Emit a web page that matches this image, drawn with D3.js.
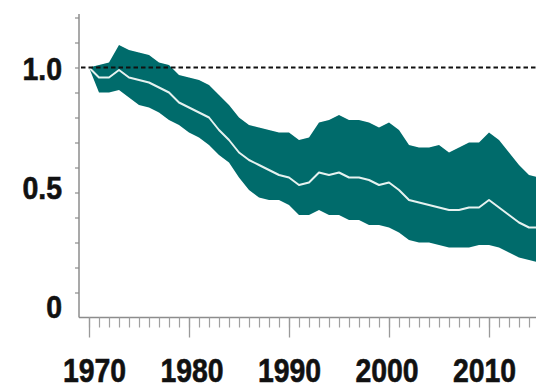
<!DOCTYPE html>
<html>
<head>
<meta charset="utf-8">
<script src="https://cdn.jsdelivr.net/npm/d3@7"></script>
<style>
  html, body { margin: 0; padding: 0; background: #fff; }
  svg { display: block; }
</style>
</head>
<body>
<svg id="chart" width="536" height="391"></svg>
<script>
// Index values, baseline 1970 = 1.0
const years = d3.range(1970, 2016);
const indexMid = [
  1.00, 0.96, 0.96, 0.99, 0.96, 0.95, 0.94, 0.92, 0.90, 0.86,
  0.84, 0.82, 0.80, 0.75, 0.71, 0.66, 0.63, 0.61, 0.59, 0.57,
  0.56, 0.53, 0.54, 0.58, 0.57, 0.58, 0.56, 0.56, 0.55, 0.53,
  0.54, 0.51, 0.47, 0.46, 0.45, 0.44, 0.43, 0.43, 0.44, 0.44,
  0.47, 0.44, 0.41, 0.38, 0.36, 0.36
];
const indexUpper = [
  1.00, 1.01, 1.02, 1.09, 1.07, 1.06, 1.05, 1.02, 1.01, 0.97,
  0.96, 0.95, 0.93, 0.89, 0.85, 0.80, 0.77, 0.76, 0.75, 0.74,
  0.74, 0.71, 0.72, 0.78, 0.79, 0.81, 0.79, 0.79, 0.78, 0.76,
  0.78, 0.75, 0.69, 0.68, 0.68, 0.69, 0.66, 0.68, 0.70, 0.70,
  0.74, 0.71, 0.66, 0.61, 0.57, 0.56
];
const indexLower = [
  1.00, 0.90, 0.90, 0.91, 0.88, 0.85, 0.84, 0.82, 0.79, 0.77,
  0.74, 0.72, 0.69, 0.65, 0.62, 0.56, 0.51, 0.48, 0.47, 0.47,
  0.45, 0.41, 0.41, 0.43, 0.41, 0.41, 0.39, 0.39, 0.37, 0.37,
  0.36, 0.34, 0.31, 0.30, 0.30, 0.29, 0.28, 0.28, 0.28, 0.29,
  0.29, 0.28, 0.26, 0.24, 0.23, 0.22
];

// Axis ticks and labels
const yTickValues = [0.1, 0.2, 0.3, 0.4, 0.5, 0.6, 0.7, 0.8, 0.9, 1.0, 1.1, 1.2];
const yLabelValues = [0, 0.5, 1.0];
const yLabelText = ["0", "0.5", "1.0"];
const xMinorYears = d3.range(1970, 2016);
const xMajorYears = [1970, 1980, 1990, 2000, 2010];
const xLabelText = ["1970", "1980", "1990", "2000", "2010"];

const rows = years.map((yr, i) => ({ year: yr, mid: indexMid[i], lo: indexLower[i], hi: indexUpper[i] }));

const svg = d3.select("#chart");

const x = d3.scaleLinear().domain([1970, 2015]).range([89, 539]);
const y = d3.scaleLinear().domain([0, 1.2]).range([317.5, 17.5]);
// label placement scales (labels sit slightly inside the tick positions)
const xLab = d3.scaleLinear().domain([1970, 2010]).range([94.5, 484.5]);
const yLab = d3.scaleLinear().domain([0, 1]).range([306.5, 68]);

const teal = "#006b6b";
const axisGrey = "#8c8c8c";
const labelFont = "'Liberation Sans', Arimo, Arial, Helvetica, sans-serif";
const digitWidth = 15.8; // condensed bold digit advance, px

// uncertainty band
svg.append("path")
  .datum(rows)
  .attr("fill", teal)
  .attr("d", d3.area().x(d => x(d.year)).y0(d => y(d.lo)).y1(d => y(d.hi)));

// central index line
svg.append("path")
  .datum(rows)
  .attr("fill", "none")
  .attr("stroke", "#e6f2f0")
  .attr("stroke-width", 2)
  .attr("stroke-linejoin", "round")
  .attr("d", d3.line().x(d => x(d.year)).y(d => y(d.mid)));

// baseline reference at 1.0
svg.append("line")
  .attr("x1", 81).attr("x2", 536)
  .attr("y1", y(1.0)).attr("y2", y(1.0))
  .attr("stroke", "#111")
  .attr("stroke-width", 2.2)
  .attr("stroke-dasharray", "4.5,3");

// y axis
const gy = svg.append("g")
  .attr("transform", "translate(79,0)")
  .call(d3.axisLeft(y).tickValues(yTickValues).tickSize(4).tickSizeOuter(0).tickFormat(""));
gy.select(".domain").attr("stroke", axisGrey).attr("stroke-width", 1.5)
  .attr("d", `M0,${y(0)}V14`);
gy.selectAll(".tick line").attr("stroke", axisGrey).attr("stroke-width", 1.2);

// x axis: minor yearly ticks and long decade ticks
const gxMinor = svg.append("g")
  .attr("transform", `translate(0,${y(0)})`)
  .call(d3.axisBottom(x).tickValues(xMinorYears).tickSize(10).tickSizeOuter(0).tickFormat(""));
gxMinor.select(".domain").attr("stroke", axisGrey).attr("stroke-width", 1.5)
  .attr("d", `M79,0H536`);
gxMinor.selectAll(".tick line").attr("stroke", "#a0a0a0").attr("stroke-width", 1.2);

const gxMajor = svg.append("g")
  .attr("transform", `translate(0,${y(0)})`)
  .call(d3.axisBottom(x).tickValues(xMajorYears).tickSize(20).tickSizeOuter(0).tickFormat(""));
gxMajor.select(".domain").remove();
gxMajor.selectAll(".tick line").attr("stroke", "#999").attr("stroke-width", 1.3);

// width of a label in the condensed face: digits plus a narrow point
const labelWidth = s => s.replace(/\./g, "").length * digitWidth + (s.includes(".") ? 8 : 0);

// labels (a thin outline gives the heavy condensed look)
svg.append("g").selectAll("text")
  .data(xMajorYears)
  .join("text")
  .attr("x", d => xLab(d))
  .attr("y", 382)
  .attr("text-anchor", "middle")
  .attr("font-family", labelFont)
  .attr("font-weight", "bold")
  .attr("font-size", 34)
  .attr("fill", "#111")
  .attr("stroke", "#111")
  .attr("stroke-width", 0.6)
  .attr("textLength", (d, i) => labelWidth(xLabelText[i]))
  .attr("lengthAdjust", "spacingAndGlyphs")
  .text((d, i) => xLabelText[i]);

svg.append("g").selectAll("text")
  .data(yLabelValues)
  .join("text")
  .attr("x", 62)
  .attr("y", d => yLab(d) + 11.5)
  .attr("text-anchor", "end")
  .attr("font-family", labelFont)
  .attr("font-weight", "bold")
  .attr("font-size", 32)
  .attr("fill", "#111")
  .attr("stroke", "#111")
  .attr("stroke-width", 0.6)
  .attr("textLength", (d, i) => labelWidth(yLabelText[i]))
  .attr("lengthAdjust", "spacingAndGlyphs")
  .text((d, i) => yLabelText[i]);
</script>
</body>
</html>
